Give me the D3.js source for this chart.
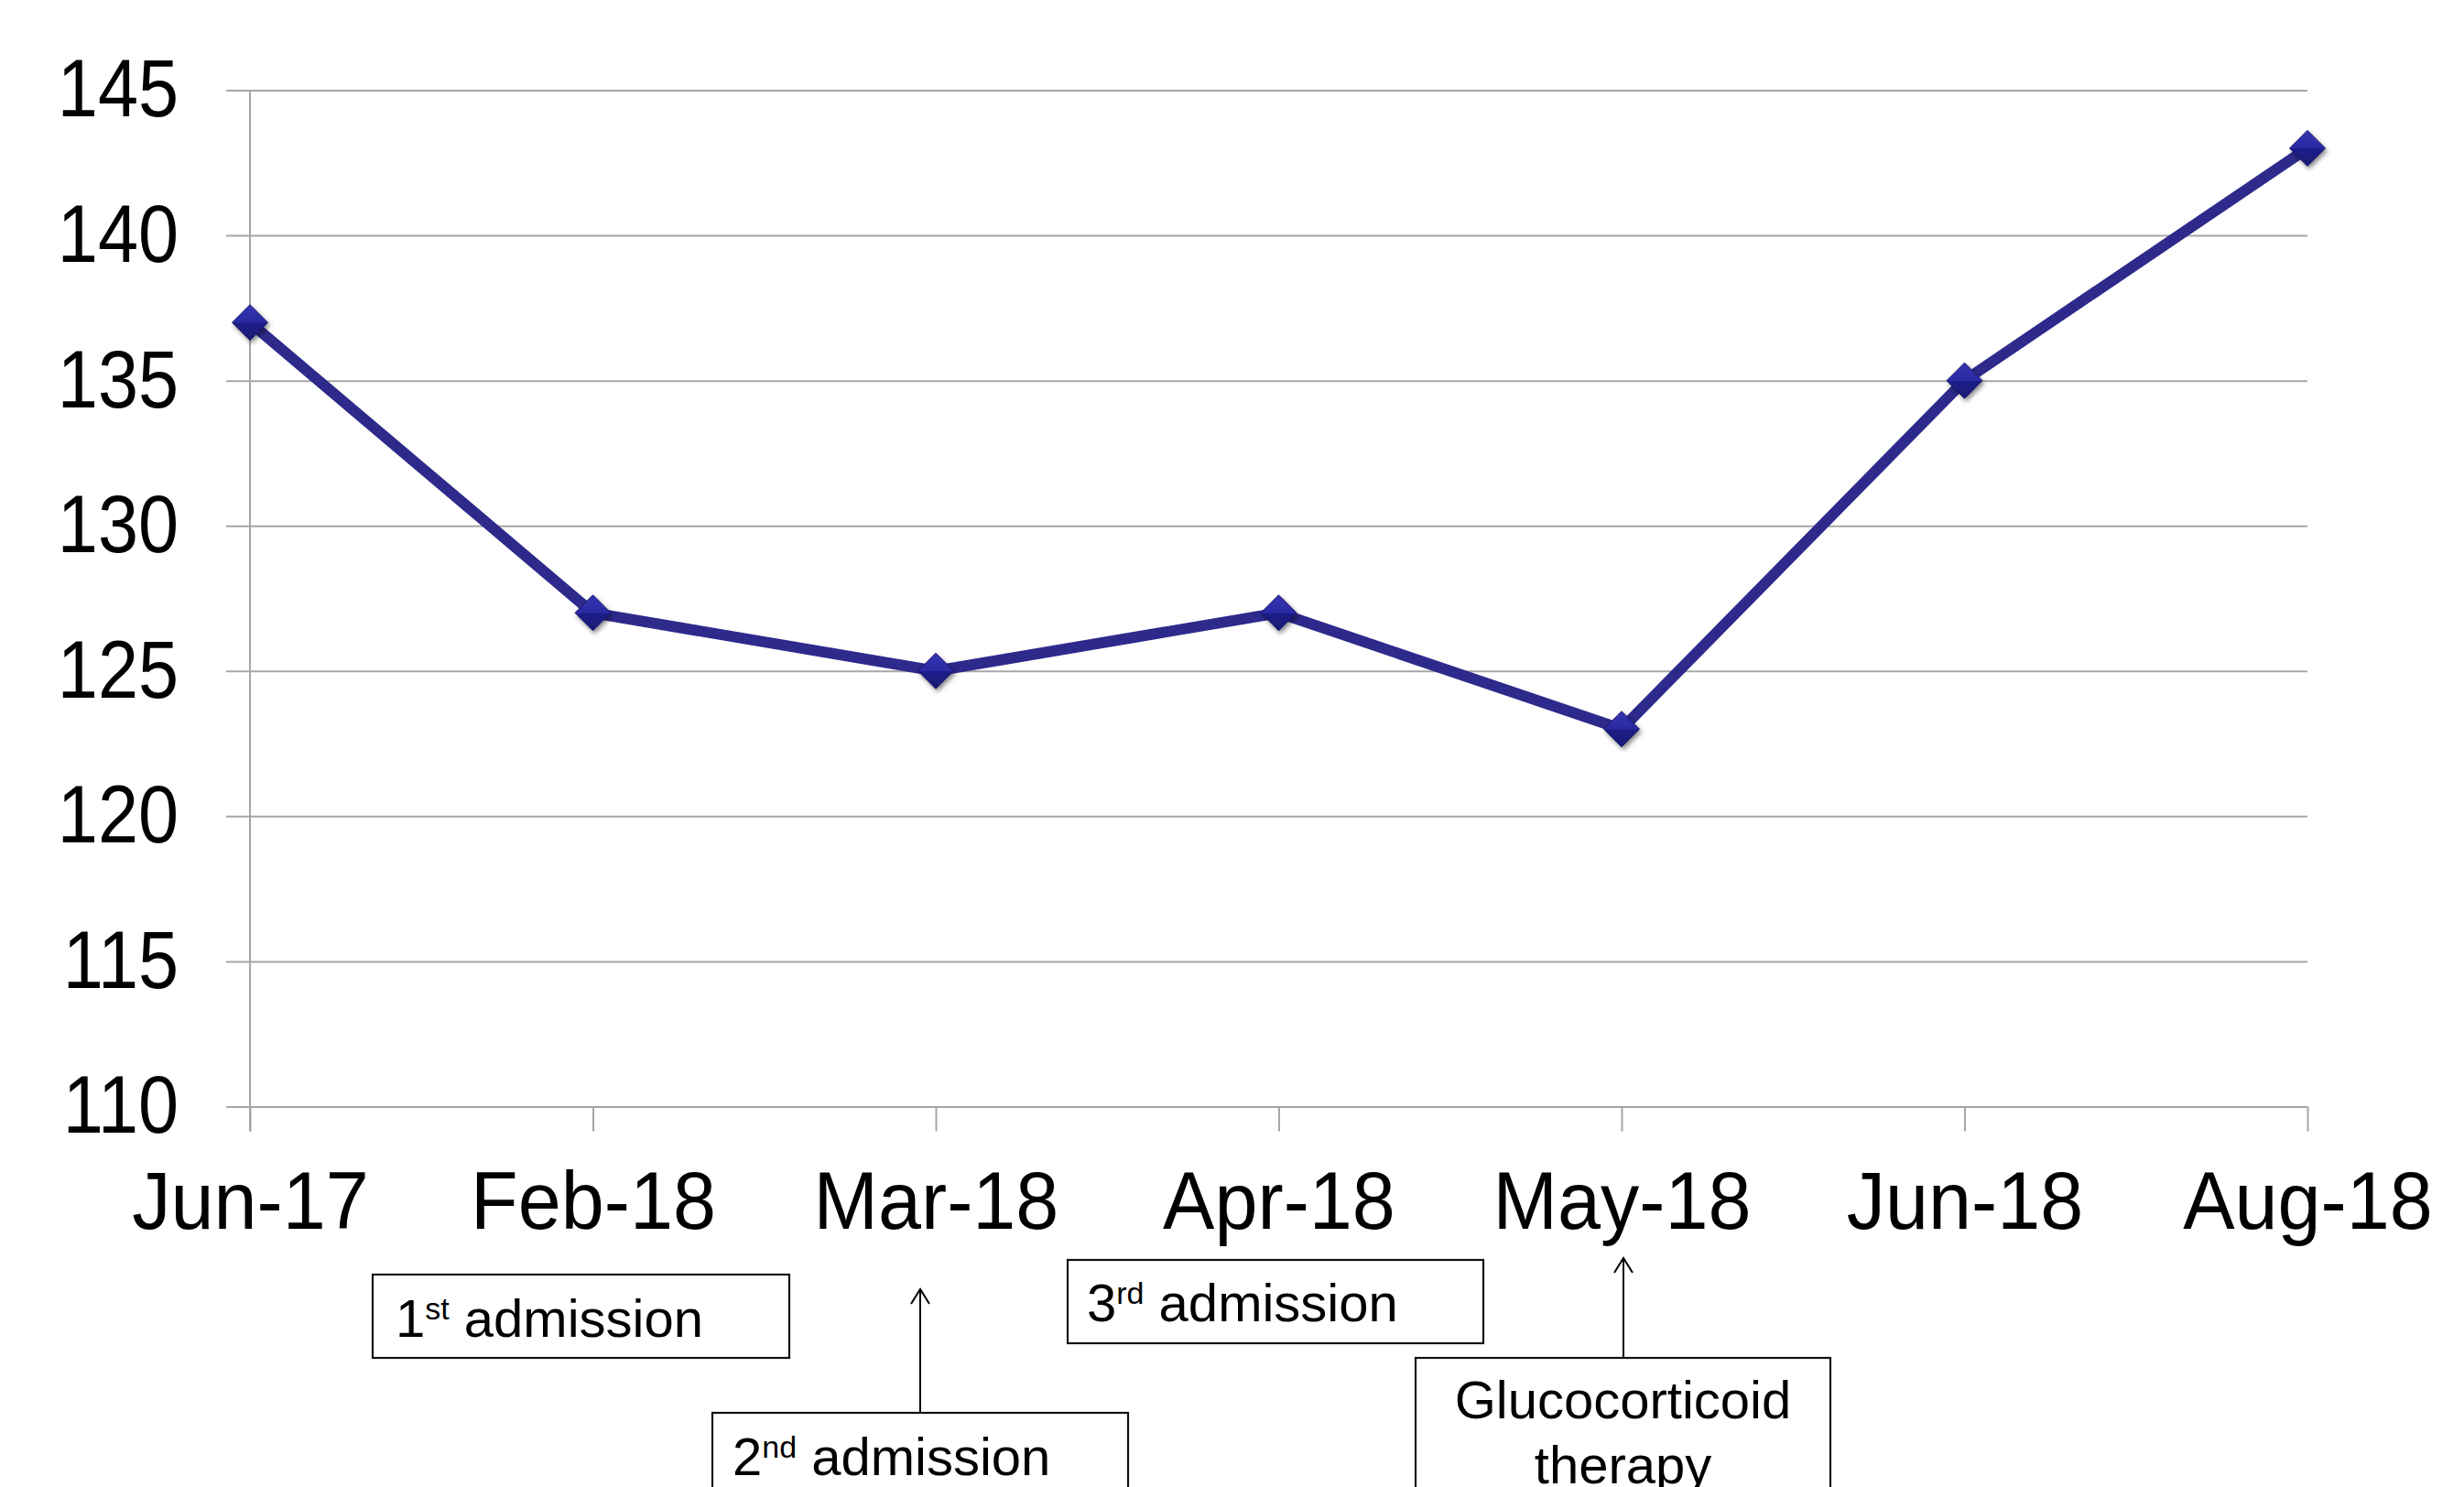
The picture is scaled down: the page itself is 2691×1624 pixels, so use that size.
<!DOCTYPE html>
<html>
<head>
<meta charset="utf-8">
<script src="https://cdn.jsdelivr.net/npm/d3@7"></script>
<style>
  body { margin: 0; background: #fff; }
  svg text { font-family: "Liberation Sans", Arial, Helvetica, sans-serif; fill: #000; }
</style>
</head>
<body>
<div id="chart"></div>
<script>
// data
var months = ['Jun-17', 'Feb-18', 'Mar-18', 'Apr-18', 'May-18', 'Jun-18', 'Aug-18'];
var values = [137, 127, 125, 127, 123, 135, 143];
var yTicks = [110, 115, 120, 125, 130, 135, 140, 145];

// notes under the axis: [main, superscript, rest]
var notes = [
    ['1', 'st', ' admission'],
    ['2', 'nd', ' admission'],
    ['3', 'rd', ' admission'],
    ['Glucocorticoid', '', 'therapy']
];

var consts = {
    width: 2691,
    height: 1624,
    left: 273,
    right: 2520,
    top: 98.5,
    bottom: 1208.5,
    gridLeft: 247,
    tick: 27
};

// layout of the note boxes (pixels)
var noteBoxes = [
    { x: 407, y: 1392, w: 455, h: 91, tx: 432, ty: 1460, arrow: null },
    { x: 778, y: 1543, w: 454, h: 130, tx: 800, ty: 1611, arrow: { x: 1005, tip: 1408 } },
    { x: 1166, y: 1376, w: 454, h: 91, tx: 1187, ty: 1443, arrow: null },
    { x: 1546, y: 1483, w: 453, h: 200, tx: 1772.5, ty: 1549, arrow: { x: 1773, tip: 1374 }, centered: true }
];

var svg = d3.select('#chart').append('svg')
    .attr('width', consts.width)
    .attr('height', consts.height);

var defs = svg.append('defs');
var grad = defs.append('linearGradient')
    .attr('id', 'mk').attr('x1', 0).attr('y1', 0).attr('x2', 0).attr('y2', 1);
grad.append('stop').attr('offset', '0%').attr('stop-color', '#3434b4');
grad.append('stop').attr('offset', '50%').attr('stop-color', '#2a2aa2');
grad.append('stop').attr('offset', '51%').attr('stop-color', '#1f1f8a');
grad.append('stop').attr('offset', '100%').attr('stop-color', '#181872');
defs.append('filter').attr('id', 'shadow')
    .attr('x', '-50%').attr('y', '-50%').attr('width', '200%').attr('height', '200%')
    .append('feDropShadow')
    .attr('dx', 2).attr('dy', 3).attr('stdDeviation', 2.5)
    .attr('flood-color', '#000').attr('flood-opacity', 0.45);

var x = d3.scalePoint().domain(months).range([consts.left, consts.right]);
var y = d3.scaleLinear().domain([110, 145]).range([consts.bottom, consts.top]);

// y axis with gridlines
var ySx = 0.89;
var yAxis = svg.append('g')
    .attr('transform', 'translate(' + consts.gridLeft + ',0)')
    .call(d3.axisLeft(y)
        .tickValues(yTicks)
        .tickSize(-(consts.right - consts.gridLeft))
        .tickPadding(52));
yAxis.select('.domain').remove();
yAxis.selectAll('.tick line').attr('stroke', '#a6a6a6').attr('stroke-width', 2);
yAxis.selectAll('.tick text')
    .attr('font-size', 89)
    .attr('x', -52 / ySx)
    .attr('dy', '0.32em')
    .attr('transform', 'scale(' + ySx + ',1)');

// vertical axis line
svg.append('line')
    .attr('x1', consts.left).attr('x2', consts.left)
    .attr('y1', consts.top).attr('y2', consts.bottom + consts.tick)
    .attr('stroke', '#a6a6a6').attr('stroke-width', 2);

// x axis
var xSx = 0.95;
var xAxis = svg.append('g')
    .attr('transform', 'translate(0,' + consts.bottom + ')')
    .call(d3.axisBottom(x).tickSize(consts.tick));
xAxis.select('.domain').remove();
xAxis.selectAll('.tick line').attr('stroke', '#a6a6a6').attr('stroke-width', 2);
xAxis.selectAll('.tick text')
    .attr('font-size', 89)
    .attr('y', 133.5)
    .attr('dy', 0)
    .attr('transform', 'scale(' + xSx + ',1)');

// series line
var pts = months.map(function (m, i) { return { m: m, v: values[i] }; });
svg.append('path')
    .datum(pts)
    .attr('fill', 'none')
    .attr('stroke', '#2e2a8c')
    .attr('stroke-width', 12)
    .attr('stroke-linejoin', 'round')
    .attr('d', d3.line()
        .x(function (d) { return x(d.m); })
        .y(function (d) { return y(d.v); }));

// diamond markers
var r = 19.5;
svg.selectAll('.marker')
    .data(pts)
    .enter()
    .append('path')
    .attr('class', 'marker')
    .attr('d', function (d) {
        var cx = x(d.m), cy = y(d.v);
        return 'M' + cx + ',' + (cy - r) + 'L' + (cx + r) + ',' + cy +
            'L' + cx + ',' + (cy + r) + 'L' + (cx - r) + ',' + cy + 'Z';
    })
    .attr('fill', 'url(#mk)')
    .attr('stroke', '#16166a')
    .attr('stroke-width', 1)
    .attr('filter', 'url(#shadow)');

// note boxes
var note = svg.selectAll('.note')
    .data(noteBoxes)
    .enter()
    .append('g')
    .attr('class', 'note');

note.append('rect')
    .attr('x', function (d) { return d.x; })
    .attr('y', function (d) { return d.y; })
    .attr('width', function (d) { return d.w; })
    .attr('height', function (d) { return d.h; })
    .attr('fill', '#fff')
    .attr('stroke', '#111')
    .attr('stroke-width', 2.2);

note.each(function (d, i) {
    var g = d3.select(this);
    var t = notes[i];
    if (d.centered) {
        g.append('text')
            .attr('x', d.tx).attr('y', d.ty)
            .attr('text-anchor', 'middle')
            .attr('font-size', 58)
            .text(t[0]);
        g.append('text')
            .attr('x', d.tx).attr('y', d.ty + 71)
            .attr('text-anchor', 'middle')
            .attr('font-size', 58)
            .text(t[2]);
    } else {
        var txt = g.append('text')
            .attr('x', d.tx).attr('y', d.ty)
            .attr('font-size', 58);
        txt.append('tspan').text(t[0]);
        txt.append('tspan').attr('font-size', 34).attr('dy', -19).text(t[1]);
        txt.append('tspan').attr('dy', 19).text(t[2]);
    }
    if (d.arrow) {
        var a = d.arrow;
        g.append('line')
            .attr('x1', a.x).attr('x2', a.x)
            .attr('y1', d.y).attr('y2', a.tip)
            .attr('stroke', '#000').attr('stroke-width', 2);
        g.append('path')
            .attr('d', 'M' + (a.x - 10) + ',' + (a.tip + 16) + 'L' + a.x + ',' + a.tip +
                'L' + (a.x + 10) + ',' + (a.tip + 16))
            .attr('fill', 'none')
            .attr('stroke', '#000').attr('stroke-width', 2);
    }
});
</script>
</body>
</html>
